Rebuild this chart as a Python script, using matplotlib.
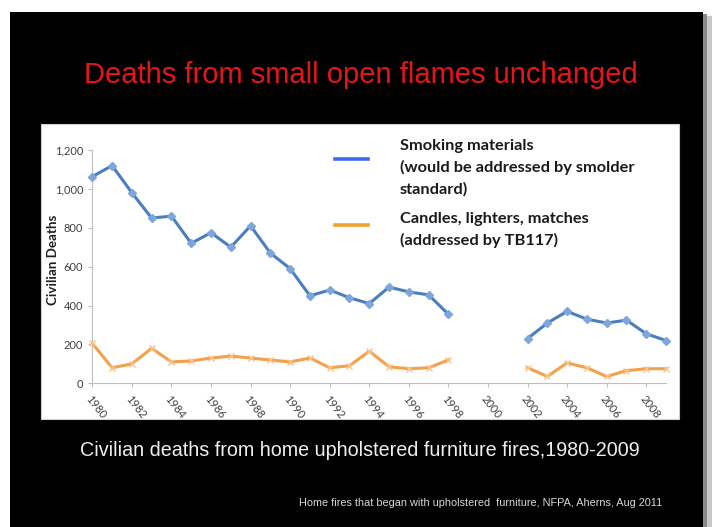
import matplotlib.pyplot as plt
from matplotlib.lines import Line2D
from matplotlib.patches import Rectangle
from matplotlib.ticker import FuncFormatter
import numpy as np

# data; no values for 1999-2001
years = list(range(1980, 2010))
smoking = [1063, 1120, 980, 850, 860, 720, 775, 700, 810, 670,
           590, 450, 480, 440, 410, 495, 470, 455, 355, None,
           None, None, 230, 310, 370, 330, 310, 325, 255, 220]
candles = [205, 80, 100, 180, 110, 115, 130, 140, 130, 120,
           110, 130, 80, 90, 165, 85, 75, 80, 120, None,
           None, None, 80, 35, 105, 80, 35, 65, 75, 75]
tick_years = list(range(1980, 2009, 2))

smoking_label = "Smoking materials\n(would be addressed by smolder\nstandard)"
candles_label = "Candles, lighters, matches\n(addressed by TB117)"

W, H = 712, 527
fig = plt.figure(figsize=(W / 100, H / 100), dpi=100)
fig.patch.set_facecolor("white")


def px(x, y):
    """Pixel coords (top-left origin) -> figure fraction"""
    return x / W, 1 - y / H


def box(x0, y0, x1, y1, **kw):
    """Rectangle in pixel coords"""
    fig.patches.append(Rectangle(px(x0, y1), (x1 - x0) / W, (y1 - y0) / H,
                                 transform=fig.transFigure, **kw))


# slide with soft shadow
box(704, 16, 712, 527, facecolor="#c8c8c8", edgecolor="none", zorder=-5)
box(703, 14, 707, 527, facecolor="#8a8a8a", edgecolor="none", zorder=-4)
box(10, 12, 703, 527, facecolor="black", edgecolor="none", zorder=-3)
box(41, 124, 679, 419, facecolor="white", edgecolor="#d0d0d0",
    linewidth=0.8, zorder=-2)

fig.text(*px(361, 75), "Deaths from small open flames unchanged",
         color="#e8141b", fontsize=21, ha="center", va="center",
         family=["Liberation Sans Narrow", "Liberation Sans"])
fig.text(*px(360, 450),
         "Civilian deaths from home upholstered furniture fires,1980-2009",
         color="#eeeeee", fontsize=14.2, ha="center", va="center",
         family="Liberation Sans")
fig.text(*px(481, 503),
         "Home fires that began with upholstered  furniture, NFPA, "
         "Aherns, Aug 2011",
         color="#d8d8d8", fontsize=7.8, ha="center", va="center",
         family="Liberation Sans")

ax = fig.add_axes([92.3 / W, 1 - 383.3 / H, (666 - 92.3) / W,
                   (383.3 - 150) / H])
ax.set_facecolor("none")

s = np.array([np.nan if v is None else v for v in smoking], dtype=float)
c = np.array([np.nan if v is None else v for v in candles], dtype=float)
ax.plot(years, s, color="#4a7ebf", linewidth=2.2, marker="D",
        markersize=4.5, markerfacecolor="#7fa6dc",
        markeredgecolor="#7fa6dc", zorder=3, clip_on=False)
ax.plot(years, c, color="#f5a04a", linewidth=2.2, marker="x",
        markersize=5, markeredgecolor="#f7c48e", markeredgewidth=1,
        zorder=3, clip_on=False)

ax.set_xlim(1980, 2009)
ax.set_ylim(0, 1200)
ax.set_yticks(range(0, 1201, 200))
ax.yaxis.set_major_formatter(FuncFormatter(lambda v, p: "{:,.0f}".format(v)))
ax.set_xticks(tick_years)
ax.set_xticklabels([str(y) for y in tick_years], rotation=-52,
                   ha="left", va="top", rotation_mode="anchor")

for side in ("top", "right"):
    ax.spines[side].set_visible(False)
for side in ("left", "bottom"):
    ax.spines[side].set_color("#bfbfbf")
    ax.spines[side].set_linewidth(0.8)
ax.tick_params(colors="#bfbfbf", length=3, width=0.8)
ax.tick_params(axis="both", labelcolor="#404040", labelsize=8)
ax.tick_params(axis="x", pad=4)
for lab in ax.get_xticklabels() + ax.get_yticklabels():
    lab.set_family("Lato")

ax.set_ylabel("Civilian Deaths", fontsize=9.6, fontweight="bold",
              color="#202020", family="Lato")
ax.yaxis.set_label_coords(-0.058, 0.53)

# legend drawn by hand so each key sits level with its first line
legend_font = {"family": "Lato", "weight": "bold", "size": 11.8,
               "color": "#1a1a1a", "linespacing": 1.6}
fig.add_artist(Line2D([335 / W, 368 / W], [1 - 159 / H] * 2,
                      color="#3d6cf0", linewidth=2.6,
                      transform=fig.transFigure))
fig.add_artist(Line2D([335 / W, 368 / W], [1 - 225 / H] * 2,
                      color="#f7a030", linewidth=2.6,
                      transform=fig.transFigure))
fig.text(*px(400, 139), smoking_label, ha="left", va="top", **legend_font)
fig.text(*px(400, 212), candles_label, ha="left", va="top", **legend_font)

fig.savefig("out.png", dpi=100, facecolor=fig.get_facecolor())
